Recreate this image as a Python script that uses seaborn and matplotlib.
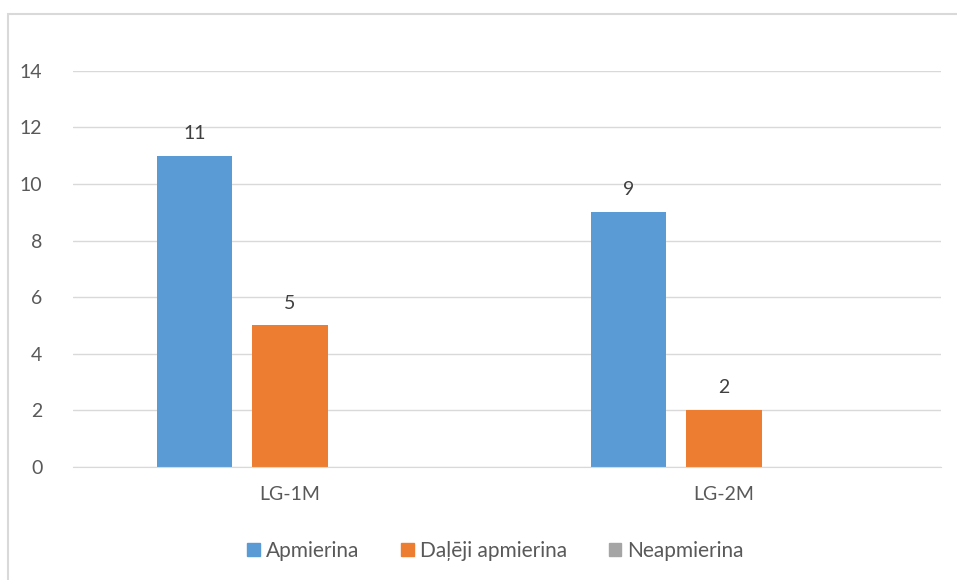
import pandas as pd
import matplotlib.pyplot as plt
import seaborn as sns
from matplotlib.patches import Rectangle

categories = ['LG-1M', 'LG-2M']
series = ['Apmierina', 'Daļēji apmierina', 'Neapmierina']
apmierina = [11, 9]
dalēji = [5, 2]
neapmierina = [0, 0]
colors = ['#5B9BD5', '#ED7D31', '#A5A5A5']

data = pd.DataFrame({
    'group': categories * 3,
    'series': [series[0]] * 2 + [series[1]] * 2 + [series[2]] * 2,
    'value': apmierina + dalēji + neapmierina,
})

sns.set_style('white')
plt.rcParams['font.family'] = ['Lato', 'DejaVu Sans']

fig = plt.figure(figsize=(9.57, 5.8), dpi=100)
ax = fig.add_axes([0.0762, 0.195, 0.907, 0.683])

sns.barplot(data=data, x='group', y='value', hue='series', palette=colors,
            saturation=1, linewidth=0, width=0.66, gap=0.21, ax=ax, legend=False)

# data labels (skip zero values, like the original)
for cont in ax.containers:
    labels = [f'{int(v)}' if v > 0 else '' for v in cont.datavalues]
    ax.bar_label(cont, labels=labels, padding=10, fontsize=14, color='#404040')

ax.set_ylim(0, 14)
ax.set_yticks(range(0, 15, 2))
ax.yaxis.grid(True, color='#D9D9D9', linewidth=1)
ax.set_axisbelow(True)
ax.set_xlabel('')
ax.set_ylabel('')
for side in ['top', 'right', 'left']:
    ax.spines[side].set_visible(False)
ax.spines['bottom'].set_color('#D9D9D9')
ax.tick_params(axis='both', length=0, labelsize=14, labelcolor='#595959')
ax.tick_params(axis='y', pad=22)
ax.tick_params(axis='x', pad=14)

handles = [Rectangle((0, 0), 1, 1, color=c) for c in colors]
fig.legend(handles, series, loc='center', bbox_to_anchor=(0.518, 0.05), ncol=3,
           frameon=False, fontsize=15, labelcolor='#595959',
           handlelength=0.6, handleheight=0.6, handletextpad=0.3, columnspacing=2.0)

# chart border
fig.patches.append(Rectangle((8 / 957, -0.01), 1.0, 1 - 14 / 580 + 0.01,
                             transform=fig.transFigure, fill=False,
                             edgecolor='#D9D9D9', linewidth=1.5))

fig.savefig('out.png', dpi=100)
